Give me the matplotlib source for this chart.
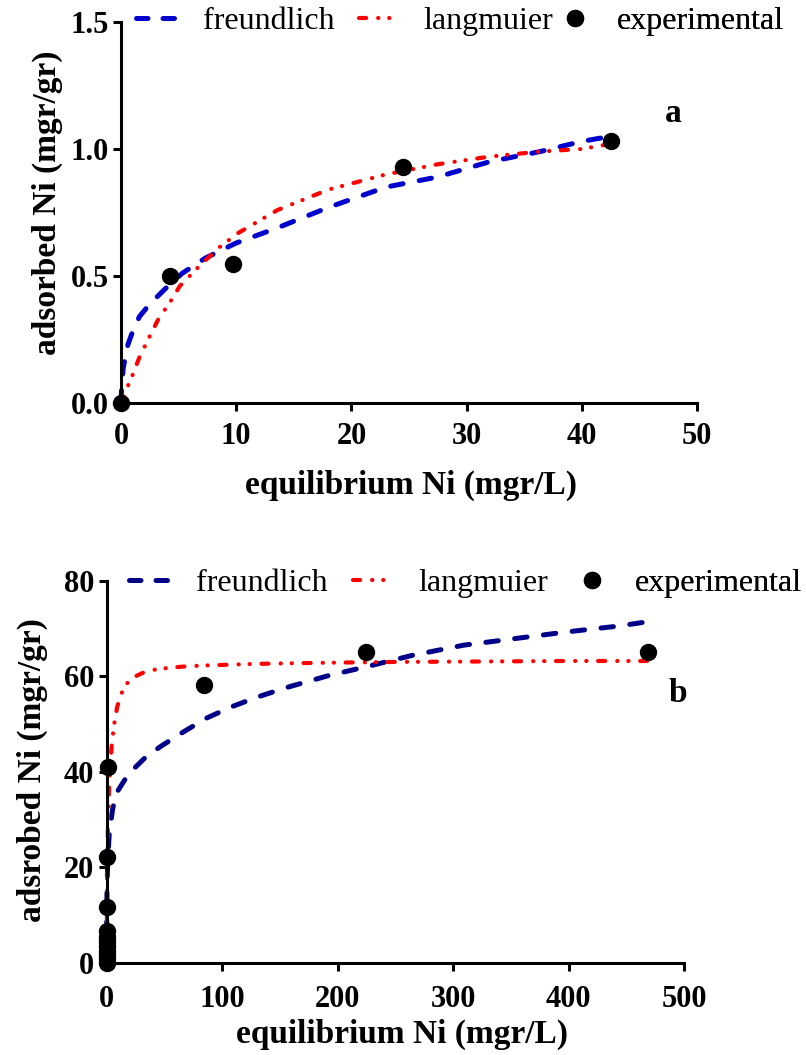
import matplotlib
matplotlib.use("Agg")
import matplotlib.pyplot as plt
from matplotlib.lines import Line2D

plt.rcParams['font.family'] = ['Liberation Serif', 'DejaVu Serif']

# ---- panel a
exp_a_x = [0, 4.25, 9.75, 24.5, 42.5]
exp_a_y = [0, 0.50, 0.546, 0.93, 1.03]

fr_a_x = [0, 0.03, 0.1, 0.2, 0.6, 1.0, 1.6, 2.5, 3.4, 4.3, 5.3, 7.3, 10, 13.6, 18, 23, 27.5, 32, 36.4, 40, 42.5]
fr_a_y = [0, 0.04, 0.09, 0.14, 0.23, 0.28, 0.34, 0.39, 0.43, 0.47, 0.51, 0.57, 0.63, 0.69, 0.77, 0.85, 0.89, 0.95, 0.99, 1.03, 1.05]

la_a_x = [0, 0.3, 0.63, 1.0, 1.6, 2.46, 3.24, 4.3, 5.1, 6.6, 8.45, 10.2, 13.6, 18, 23, 27.5, 32, 36.4, 40, 42.5]
la_a_y = [0, 0.03, 0.07, 0.11, 0.18, 0.26, 0.33, 0.40, 0.46, 0.53, 0.61, 0.67, 0.76, 0.84, 0.90, 0.94, 0.97, 0.99, 1.00, 1.02]

# ---- panel b
exp_b_x = [0, 0, 0, 0, 0, 0, 0, 0, 0.2, 0.6, 1.0, 84, 225, 469]
exp_b_y = [0, 0.8, 1.6, 2.5, 3.5, 4.5, 5.5, 6.8, 11.8, 22.2, 41.1, 58.2, 65.1, 65.1]

fr_b_x = [0, 0.05, 0.3, 1, 2.2, 5, 8, 19, 32.6, 46, 64, 86, 108, 131, 158, 193, 225, 265, 309, 354, 399, 443, 468]
fr_b_y = [0, 10, 16, 22, 27, 32, 35.4, 39.6, 42.8, 45.2, 48, 51.2, 53.6, 55.7, 57.8, 60.2, 62, 64.4, 66.5, 67.9, 69.3, 70.5, 71.4]

la_b_x = [0, 0.3, 1, 2, 3, 4.5, 6.5, 9, 12, 16, 20, 25, 32, 42, 55, 70, 90, 130, 180, 250, 330, 400, 468]
la_b_y = [0, 15, 28, 36, 41, 46, 50, 53.5, 56, 58, 59.2, 60, 60.8, 61.4, 61.8, 62.1, 62.3, 62.6, 62.8, 63, 63.1, 63.2, 63.2]

W, H = 806, 1055
fig = plt.figure(figsize=(W / 100, H / 100), dpi=100)

BLUE_A = '#0000cc'
BLUE_B = '#000088'
RED = '#ff0000'
FR_DASH = (0, (2.5, 3.3))
LA_DASH = (0, (1.7, 2.9, 0.05, 2.6, 0.05, 2.8))
LEG_FS = 23


def px(x, y):
    return x / W, 1 - y / H


def style_axes(ax, xpad):
    for s in ['top', 'right']:
        ax.spines[s].set_visible(False)
    for s in ['left', 'bottom']:
        ax.spines[s].set_linewidth(2.2)
    ax.tick_params(direction='out', length=6, width=2.2, labelsize=22, pad=3)
    ax.tick_params(axis='x', pad=xpad)
    for lab in ax.get_xticklabels() + ax.get_yticklabels():
        lab.set_fontweight('bold')


def add_legend(ax, color, xs, y):
    # xs: pixel x of each handle start, text start
    entries = [
        (Line2D([], [], color=color, lw=3.6, ls=(0, (2.3, 3.0)), dash_capstyle='round'), 'freundlich', xs[0], xs[1]),
        (Line2D([], [], color=RED, lw=3.0, ls=LA_DASH, dash_capstyle='round'), 'langmuier', xs[2], xs[3]),
        (Line2D([], [], color='black', marker='o', ms=11.5, ls='none'), 'experimental', xs[4], xs[5]),
    ]
    fpx = LEG_FS * 100 / 72
    for h, lab, x0, x1 in entries:
        if lab == 'experimental':
            hl = 16 / fpx
        else:
            hl = 42 / fpx
        pad = (x1 - x0) / fpx - hl
        leg = ax.legend([h], [lab], loc='center left', bbox_to_anchor=px(x0, y),
                        bbox_transform=fig.transFigure, frameon=False, borderpad=0,
                        borderaxespad=0, handlelength=hl, handletextpad=pad,
                        fontsize=LEG_FS)
        ax.add_artist(leg)


# ---------- panel a
ax1 = fig.add_axes([121 / W, 1 - 403 / H, 576 / W, 381 / H])
ax1.plot(fr_a_x, fr_a_y, color=BLUE_A, lw=3.6, ls=FR_DASH, dash_capstyle='round', clip_on=False)
ax1.plot(la_a_x, la_a_y, color=RED, lw=3.0, ls=LA_DASH, dash_capstyle='round', clip_on=False)
ax1.plot(exp_a_x, exp_a_y, 'o', color='black', ms=11.5, clip_on=False, zorder=5)
ax1.set_xlim(0, 50)
ax1.set_ylim(0, 1.5)
ax1.set_xticks([0, 10, 20, 30, 40, 50])
ax1.set_yticks([0, 0.5, 1.0, 1.5])
ax1.set_yticklabels(['0.0', '0.5', '1.0', '1.5'])
style_axes(ax1, 8)
ax1.set_xlabel('equilibrium Ni (mgr/L)', fontsize=24, fontweight='bold', va='center')
ax1.set_ylabel('adsorbed Ni (mgr/gr)', fontsize=24, fontweight='bold', va='center')
ax1.xaxis.set_label_coords(0.503, -0.215)
ax1.yaxis.set_label_coords(-0.127, 0.525)
ax1.text(0.958, 0.761, 'a', transform=ax1.transAxes, fontsize=24, fontweight='bold',
         ha='center', va='center')
add_legend(ax1, BLUE_A, [136, 203, 359, 423, 567, 617], 21)

# ---------- panel b
ax2 = fig.add_axes([106.7 / W, 1 - 963 / H, 577.3 / W, 382.3 / H])
ax2.plot(fr_b_x, fr_b_y, color=BLUE_B, lw=3.6, ls=FR_DASH, dash_capstyle='round', clip_on=False)
ax2.plot(la_b_x, la_b_y, color=RED, lw=3.0, ls=LA_DASH, dash_capstyle='round', clip_on=False)
ax2.plot(exp_b_x, exp_b_y, 'o', color='black', ms=11.5, clip_on=False, zorder=5)
ax2.set_xlim(0, 500)
ax2.set_ylim(0, 80)
ax2.set_xticks([0, 100, 200, 300, 400, 500])
ax2.set_yticks([0, 20, 40, 60, 80])
style_axes(ax2, 10)
ax2.set_xlabel('equilibrium Ni (mgr/L)', fontsize=24, fontweight='bold', va='center')
ax2.set_ylabel('adsrobed Ni (mgr/gr)', fontsize=24, fontweight='bold', va='center')
ax2.xaxis.set_label_coords(0.511, -0.188)
ax2.yaxis.set_label_coords(-0.129, 0.505)
ax2.text(0.99, 0.706, 'b', transform=ax2.transAxes, fontsize=24, fontweight='bold',
         ha='center', va='center')
add_legend(ax2, BLUE_B, [129, 196, 353, 418, 584, 635], 583)

fig.savefig('out.png', dpi=100)
